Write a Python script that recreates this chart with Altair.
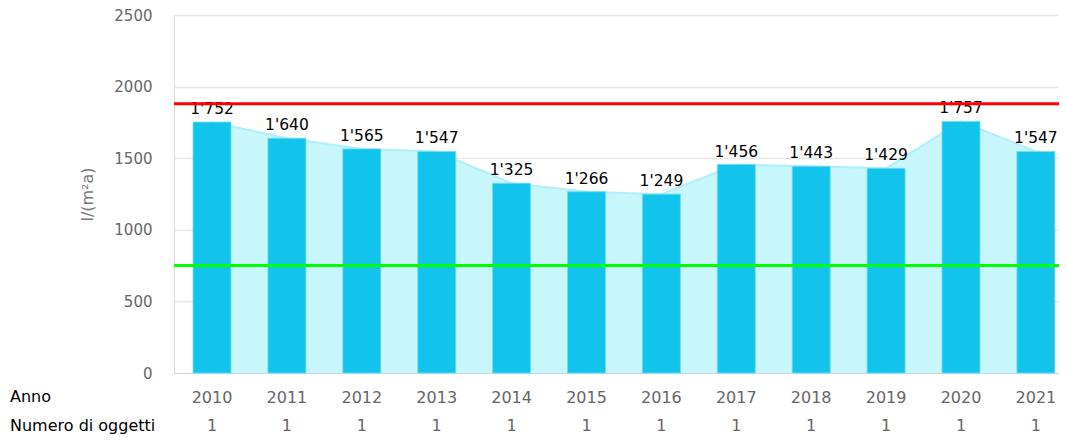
import altair as alt
import pandas as pd

years = ["2010", "2011", "2012", "2013", "2014", "2015", "2016", "2017", "2018", "2019", "2020", "2021"]
values = [1752, 1640, 1565, 1547, 1325, 1266, 1249, 1456, 1443, 1429, 1757, 1547]
counts = [1, 1, 1, 1, 1, 1, 1, 1, 1, 1, 1, 1]
labels = ["1'752", "1'640", "1'565", "1'547", "1'325", "1'266", "1'249", "1'456", "1'443", "1'429", "1'757", "1'547"]
ref_high = 1880
ref_low = 750
row_labels = ["Anno", "Numero di oggetti"]
y_title = "l/(m²a)"

df = pd.DataFrame({"Anno": years, "Valore": values, "N": counts, "Etichetta": labels})

FONT = "DejaVu Sans"
W, H = 885, 358

xscale = alt.Scale(type="band", paddingInner=0.4927, paddingOuter=0.1545, align=0.822)
xaxis = alt.Axis(title=None, labelAngle=0, labelFontSize=16, labelColor="#666666",
                 labelFont=FONT, labelPadding=16, ticks=False, domainColor="#ccd6eb",
                 domainWidth=1, grid=False)
xenc = alt.X("Anno:N", sort=years, scale=xscale, axis=xaxis)
yscale = alt.Scale(domain=[0, 2500], nice=False)

base = alt.Chart(df)

area = base.mark_area(color="#c8f6fd", opacity=1, line={"color": "#aeeffb", "strokeWidth": 2}).encode(
    x=xenc,
    y=alt.Y("Valore:Q", scale=yscale,
            axis=alt.Axis(title=y_title, titleFontSize=16, titleColor="#777777", titleFont=FONT,
                          titleFontWeight="normal", titlePadding=18, format="d",
                          labelFontSize=15, labelColor="#666666", labelFont=FONT,
                          values=[0, 500, 1000, 1500, 2000, 2500], ticks=False, domain=False,
                          labelPadding=22, gridColor="#e6e6e6", gridWidth=1.5)),
)

bars = base.mark_bar(color="#12c3eb", stroke="#6fdcf5", strokeWidth=0.8).encode(
    x=xenc, y=alt.Y("Valore:Q", scale=yscale)
)

text = base.mark_text(baseline="alphabetic", dy=-8, fontSize=15.5, font=FONT, color="#000000").encode(
    x=xenc, y=alt.Y("Valore:Q", scale=yscale), text="Etichetta:N"
)

count_text = base.mark_text(baseline="middle", fontSize=16, font=FONT, color="#666666").encode(
    x=xenc, y=alt.value(411), text="N:Q"
)

rule_hi = alt.Chart(pd.DataFrame({"v": [ref_high]})).mark_rule(color="#ff0000", strokeWidth=3).encode(
    y=alt.Y("v:Q", scale=yscale)
)
rule_lo = alt.Chart(pd.DataFrame({"v": [ref_low]})).mark_rule(color="#00ff00", strokeWidth=3).encode(
    y=alt.Y("v:Q", scale=yscale)
)

lab1 = alt.Chart(pd.DataFrame({"t": [row_labels[0]]})).mark_text(
    align="left", baseline="middle", fontSize=16, font=FONT, color="#000000"
).encode(x=alt.value(-164), y=alt.value(382), text="t:N")
lab2 = alt.Chart(pd.DataFrame({"t": [row_labels[1]]})).mark_text(
    align="left", baseline="middle", fontSize=16, font=FONT, color="#000000"
).encode(x=alt.value(-164), y=alt.value(411), text="t:N")

chart = alt.layer(area, bars, text, rule_hi, rule_lo, count_text, lab1, lab2).properties(
    width=W, height=H,
    autosize=alt.AutoSizeParams(type="none"),
    padding={"left": 166, "top": 7, "right": 0, "bottom": 62},
).configure_view(stroke=None).configure(background="white")

chart.save("out.html", embed_options={"renderer": "svg", "actions": False})
